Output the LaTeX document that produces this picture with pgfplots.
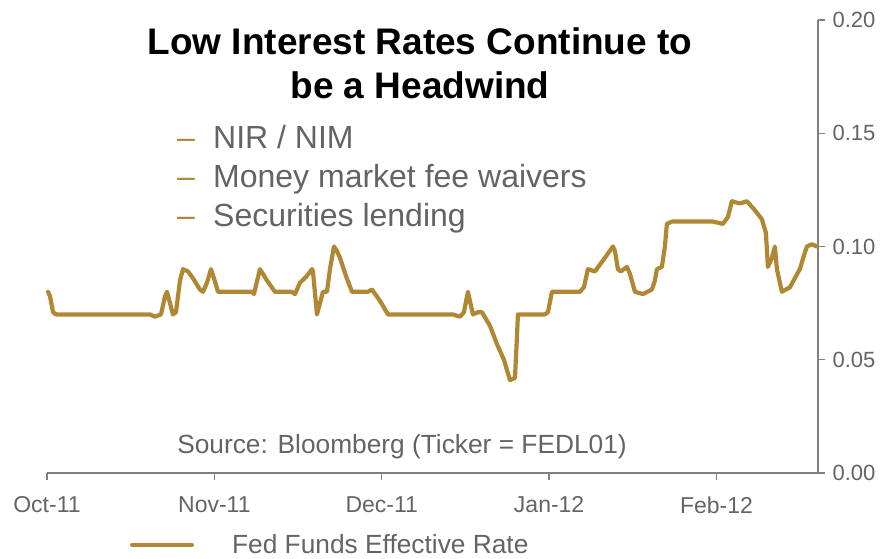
\documentclass[border=0pt]{standalone}
\usepackage{pgfplots}
\pgfplotsset{compat=1.18}
\usepackage{fontspec}
\setmainfont{Liberation Sans}
\definecolor{gold}{RGB}{176,136,52}
\definecolor{txtgray}{RGB}{100,100,104}
\definecolor{axgray}{RGB}{128,128,128}
\pgfplotstableread{
x y
0.19 0.080
0.56 0.078
1.11 0.071
1.67 0.070
19.07 0.070
20.0 0.069
21.11 0.070
21.85 0.078
22.22 0.080
22.78 0.075
23.33 0.070
23.89 0.071
24.63 0.085
25.19 0.090
26.11 0.089
27.04 0.086
28.33 0.081
28.89 0.080
29.63 0.084
30.37 0.090
30.93 0.086
31.67 0.080
37.96 0.080
38.33 0.079
39.44 0.090
40.74 0.085
42.22 0.080
45.37 0.080
45.93 0.079
46.85 0.084
48.15 0.087
49.07 0.090
49.26 0.089
50.0 0.070
50.56 0.075
51.11 0.080
51.85 0.080
52.41 0.090
53.15 0.100
53.70 0.098
54.26 0.095
55.37 0.087
56.48 0.080
59.44 0.080
60.19 0.081
61.67 0.076
63.15 0.070
75.19 0.070
76.48 0.069
77.22 0.071
77.96 0.080
78.33 0.076
78.89 0.070
79.81 0.071
80.56 0.071
82.04 0.065
83.33 0.057
84.63 0.050
85.74 0.041
86.67 0.042
87.04 0.060
87.22 0.070
92.22 0.070
92.78 0.071
93.52 0.080
98.70 0.080
99.44 0.082
100.19 0.090
101.48 0.089
103.33 0.095
104.81 0.100
105.19 0.098
105.74 0.090
106.30 0.089
107.41 0.091
107.96 0.088
108.89 0.080
110.37 0.079
112.04 0.081
112.59 0.085
112.96 0.090
113.89 0.091
114.44 0.100
114.81 0.110
115.74 0.111
123.33 0.111
125.19 0.110
126.11 0.113
126.85 0.120
128.33 0.119
129.63 0.120
131.11 0.116
132.41 0.112
133.15 0.106
133.52 0.091
134.26 0.095
134.81 0.100
135.19 0.090
136.11 0.080
137.59 0.082
139.44 0.090
140.19 0.096
140.74 0.100
141.67 0.101
142.59 0.100
}\fedrate
\begin{document}
\begin{tikzpicture}
\useasboundingbox (-47pt,-85pt) rectangle (838pt,473pt);
\begin{axis}[
  at={(0pt,0pt)}, anchor=origin,
  scale only axis, width=771pt, height=453pt,
  xmin=0, xmax=142.8, ymin=0, ymax=0.2,
  axis x line=bottom, axis y line=right,
  axis line style={-, draw=axgray, line width=1.3pt},
  tick align=outside, major tick length=7pt,
  tick style={draw=axgray, line width=1.3pt},
  xtick={0,31,62,93,124},
  xticklabels={Oct-11,Nov-11,Dec-11,Jan-12,Feb-12},
  ytick={0,0.05,0.1,0.15,0.2},
  yticklabels={0.00,0.05,0.10,0.15,0.20},
  ticklabel style={text=txtgray},
  yticklabel style={font=\fontsize{22}{26}\selectfont, anchor=west, xshift=4pt},
  xticklabel style={font=\fontsize{23}{27}\selectfont, yshift=-13pt},
  legend style={at={(axis description cs:0.1077,-0.159)}, anchor=west,
    draw=none, fill=none, inner sep=0pt, outer sep=0pt,
    font=\fontsize{26.3}{31}\selectfont, text=txtgray},
  legend image code/.code={\draw[#1, line width=4pt] (0pt,0pt) -- (60pt,0pt); \path (96pt,0pt);},
  clip=false,
]
\addplot[gold, line width=4.2pt, line join=round, line cap=round] table[x=x,y=y] {\fedrate};
\addlegendentry{Fed Funds Effective Rate}
\end{axis}
\node[anchor=base, inner sep=0pt, font=\bfseries\fontsize{37}{44}\selectfont] at (373pt,418pt) {Low Interest Rates Continue to};
\node[anchor=base, inner sep=0pt, font=\bfseries\fontsize{37}{44}\selectfont] at (373pt,375pt) {be a Headwind};
\node[anchor=base west, inner sep=0pt, text=gold, font=\fontsize{32}{38}\selectfont] at (130pt,325pt) {–};
\node[anchor=base west, inner sep=0pt, text=txtgray, font=\fontsize{32}{38}\selectfont] at (166pt,325pt) {NIR / NIM};
\node[anchor=base west, inner sep=0pt, text=gold, font=\fontsize{32}{38}\selectfont] at (130pt,286pt) {–};
\node[anchor=base west, inner sep=0pt, text=txtgray, font=\fontsize{32}{38}\selectfont] at (166pt,286pt) {Money market fee waivers};
\node[anchor=base west, inner sep=0pt, text=gold, font=\fontsize{32}{38}\selectfont] at (130pt,247pt) {–};
\node[anchor=base west, inner sep=0pt, text=txtgray, font=\fontsize{32}{38}\selectfont] at (166pt,247pt) {Securities lending};
\node[anchor=base, inner sep=0pt, text=txtgray, font=\fontsize{26.3}{31}\selectfont] at (355pt,19.5pt) {Source: Bloomberg (Ticker = FEDL01)};
\end{tikzpicture}
\end{document}
